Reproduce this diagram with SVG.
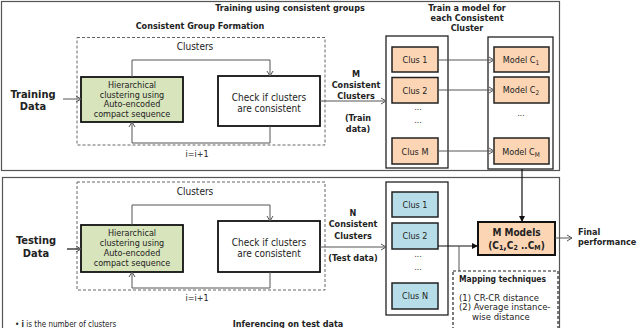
<svg xmlns="http://www.w3.org/2000/svg" width="640" height="328" viewBox="0 0 640 328">
<defs>
<style>
text{font-family:"DejaVu Sans Condensed","DejaVu Sans",sans-serif;fill:#222;}
.w{font-family:"DejaVu Sans",sans-serif;}
.b{font-weight:bold;}
.t9{font-size:9px;}
.t8{font-size:8px;}
.t10{font-size:10px;}
.t11{font-size:11px;}
.panel{fill:#fff;stroke:#555;stroke-width:1.2;}
.dash{fill:none;stroke:#555;stroke-width:0.9;stroke-dasharray:3,2;}
.green{fill:#d8e4bc;stroke:#111;stroke-width:1.8;}
.white{fill:#fff;stroke:#111;stroke-width:1.8;}
.cont{fill:#fff;stroke:#222;stroke-width:1.3;}
.peach{fill:#fcd5b4;stroke:#222;stroke-width:1.5;}
.blue{fill:#b7dee8;stroke:#222;stroke-width:1.5;}
.peachb{fill:#fcd5b4;stroke:#111;stroke-width:2;}
.ln{fill:none;stroke:#555;stroke-width:1;}
.lnk{fill:none;stroke:#111;stroke-width:1.2;}
.mapbox{fill:#fff;stroke:#222;stroke-width:1.2;stroke-dasharray:3,2;}
</style>
<marker id="open" markerWidth="8" markerHeight="8" refX="6" refY="4" orient="auto" markerUnits="userSpaceOnUse">
<path d="M1,1 L6,4 L1,7" fill="none" stroke="#555" stroke-width="1"/>
</marker>
<marker id="solid" markerWidth="8" markerHeight="8" refX="6" refY="4" orient="auto" markerUnits="userSpaceOnUse">
<path d="M0,1 L6,4 L0,7 Z" fill="#111"/>
</marker>
</defs>

<g id="panel-train">
<rect class="panel" x="1.5" y="1.5" width="558" height="169"/>
<text class="b t9" x="290" y="11" text-anchor="middle">Training  using  consistent groups</text>
<text class="b t9" x="200" y="29" text-anchor="middle">Consistent Group Formation</text>
</g>
<g id="panel-test">
<rect class="panel" x="2.5" y="177.5" width="557" height="160"/>
<text class="t8" x="15" y="326.5">•  <tspan class="b">i</tspan> is the number  of clusters</text>
<text class="b t9" x="288" y="327" text-anchor="middle">Inferencing  on test data</text>
</g>

<g id="formation-train">
<rect class="dash" x="77" y="37.5" width="248" height="107.5"/>
<text class="t10" x="195" y="50" text-anchor="middle">Clusters</text>
<text class="t9" x="197" y="157" text-anchor="middle">i=i+1</text>
</g>
<g id="hier-train">
<rect class="green" x="81" y="77" width="102" height="45"/>
<text class="t9" text-anchor="middle"><tspan x="132" y="88">Hierarchical</tspan><tspan x="132" y="97.5">clustering using</tspan><tspan x="132" y="107">Auto-encoded</tspan><tspan x="132" y="116.5">compact sequence</tspan></text>
</g>
<g id="check-train">
<rect class="white" x="218" y="76" width="102" height="50"/>
<text class="t10" font-size="10.5" text-anchor="middle"><tspan x="269" y="100.5">Check if clusters</tspan><tspan x="269" y="111.5">are consistent</tspan></text>
</g>
<g id="input-train">
<text class="b t11" text-anchor="middle"><tspan x="33" y="97.5">Training</tspan><tspan x="33" y="110">Data</tspan></text>
</g>
<g id="mclusters-label">
<text class="b t9" text-anchor="middle"><tspan x="356" y="77">M</tspan><tspan x="356" y="88">Consistent</tspan><tspan x="356" y="99">Clusters</tspan></text>
<text class="b t9" text-anchor="middle"><tspan x="358" y="121">(Train</tspan><tspan x="358" y="132">data)</tspan></text>
</g>
<g id="train-header">
<text class="b t9" text-anchor="middle"><tspan x="467" y="11">Train a model for</tspan><tspan x="467" y="21">each Consistent</tspan><tspan x="467" y="31">Cluster</tspan></text>
</g>

<g id="clus-train">
<rect class="cont" x="386" y="36" width="62" height="132"/>
<rect class="peach" x="392" y="47" width="46" height="25"/>
<text class="t9" x="415" y="63" text-anchor="middle">Clus  1</text>
<rect class="peach" x="392" y="77.5" width="46" height="25.5"/>
<text class="t9" x="415" y="93.5" text-anchor="middle">Clus  2</text>
<text class="t8" x="418" y="110" text-anchor="middle">...</text>
<text class="t8" x="418" y="123" text-anchor="middle">...</text>
<rect class="peach" x="392" y="138" width="46" height="26"/>
<text class="t9" x="415" y="154.5" text-anchor="middle">Clus  M</text>
</g>
<g id="models-train">
<rect class="cont" x="488" y="37" width="65" height="132"/>
<rect class="peach" x="494" y="47" width="55" height="25"/>
<text class="t9" x="521" y="63" text-anchor="middle">Model C<tspan font-size="6.5" dy="2">1</tspan></text>
<rect class="peach" x="494" y="77" width="55" height="26"/>
<text class="t9" x="521" y="93" text-anchor="middle">Model C<tspan font-size="6.5" dy="2">2</tspan></text>
<text class="t8" x="521" y="116" text-anchor="middle">...</text>
<rect class="peach" x="494" y="138" width="55" height="26"/>
<text class="t9" x="521" y="154.5" text-anchor="middle">Model C<tspan font-size="6.5" dy="2">M</tspan></text>
</g>

<g id="formation-test">
<rect class="dash" x="77" y="182" width="248" height="108"/>
<text class="t10" x="195" y="195" text-anchor="middle">Clusters</text>
<text class="t9" x="197" y="301" text-anchor="middle">i=i+1</text>
</g>
<g id="hier-test">
<rect class="green" x="81" y="225" width="102" height="47"/>
<text class="t9" text-anchor="middle"><tspan x="132" y="236">Hierarchical</tspan><tspan x="132" y="246">clustering using</tspan><tspan x="132" y="256">Auto-encoded</tspan><tspan x="132" y="266">compact sequence</tspan></text>
</g>
<g id="check-test">
<rect class="white" x="218" y="221" width="102" height="51"/>
<text class="t10" font-size="10.5" text-anchor="middle"><tspan x="269" y="245.5">Check if clusters</tspan><tspan x="269" y="256.5">are consistent</tspan></text>
</g>
<g id="input-test">
<text class="b t11" font-size="10.5" text-anchor="middle"><tspan x="36" y="244">Testing</tspan><tspan x="36" y="256.5">Data</tspan></text>
</g>
<g id="nclusters-label">
<text class="b t9" text-anchor="middle"><tspan x="353" y="216">N</tspan><tspan x="353" y="227">Consistent</tspan><tspan x="353" y="239">Clusters</tspan></text>
<text class="b t9" x="353" y="261" text-anchor="middle">(Test data)</text>
</g>
<g id="clus-test">
<rect class="cont" x="386" y="182" width="62" height="133"/>
<rect class="blue" x="392" y="192" width="46" height="25"/>
<text class="t9" x="415" y="208" text-anchor="middle">Clus  1</text>
<rect class="blue" x="392" y="223" width="46" height="26"/>
<text class="t9" x="415" y="239" text-anchor="middle">Clus  2</text>
<text class="t8" x="418" y="257" text-anchor="middle">...</text>
<text class="t8" x="418" y="270" text-anchor="middle">...</text>
<rect class="blue" x="392" y="283" width="46" height="26"/>
<text class="t9" x="415" y="299" text-anchor="middle">Clus  N</text>
</g>
<g id="mmodels">
<rect class="peachb" x="478" y="222" width="77" height="33"/>
<text class="b t10" text-anchor="middle"><tspan x="516.5" y="236">M Models</tspan><tspan x="516.5" y="249">(C<tspan font-size="7" dy="1">1</tspan><tspan dy="-1">,C</tspan><tspan font-size="7" dy="1">2</tspan><tspan dy="-1"> ..C</tspan><tspan font-size="7" dy="1">M</tspan><tspan dy="-1">)</tspan></tspan></text>
</g>
<g id="final">
<text class="b t9"><tspan x="578" y="235">Final</tspan><tspan x="578" y="245">performance</tspan></text>
</g>
<g id="mapping">
<rect class="mapbox" x="453" y="271" width="105" height="62"/>
<text class="b t9" x="459" y="282" textLength="87" lengthAdjust="spacingAndGlyphs">Mapping techniques</text>
<text class="w" font-size="8.5"><tspan x="459" y="301">(1)  CR-CR distance</tspan><tspan x="459" y="310">(2)  Average instance-</tspan><tspan x="472" y="320">wise distance</tspan></text>
</g>

<g id="connectors">
<line class="ln" x1="63" y1="99" x2="81" y2="99" marker-end="url(#open)"/>
<path class="ln" d="M132,77 V60 H270 V76" marker-end="url(#open)"/>
<path class="ln" d="M270,126 V143 H132 V122" marker-end="url(#open)"/>
<line class="ln" x1="320" y1="101" x2="386" y2="101" marker-end="url(#open)"/>
<line class="ln" x1="438" y1="60" x2="494" y2="60" marker-end="url(#open)"/>
<line class="ln" x1="438" y1="90" x2="494" y2="90" marker-end="url(#open)"/>
<line class="ln" x1="438" y1="151" x2="494" y2="151" marker-end="url(#open)"/>
<line class="lnk" x1="522" y1="169" x2="522" y2="222" marker-end="url(#solid)"/>
<line class="lnk" x1="67" y1="249" x2="81" y2="249" marker-end="url(#open)"/>
<path class="ln" d="M132,225 V205 H270 V221" marker-end="url(#open)"/>
<path class="ln" d="M270,272 V288 H132 V272" marker-end="url(#open)"/>
<line class="ln" x1="320" y1="247" x2="386" y2="247" marker-end="url(#open)"/>
<line class="lnk" x1="438" y1="246" x2="478" y2="246" marker-end="url(#solid)"/>
<line class="ln" x1="459" y1="246" x2="459" y2="271"/>
<line class="ln" x1="555" y1="238" x2="572" y2="238" marker-end="url(#open)"/>
</g>
</svg>
